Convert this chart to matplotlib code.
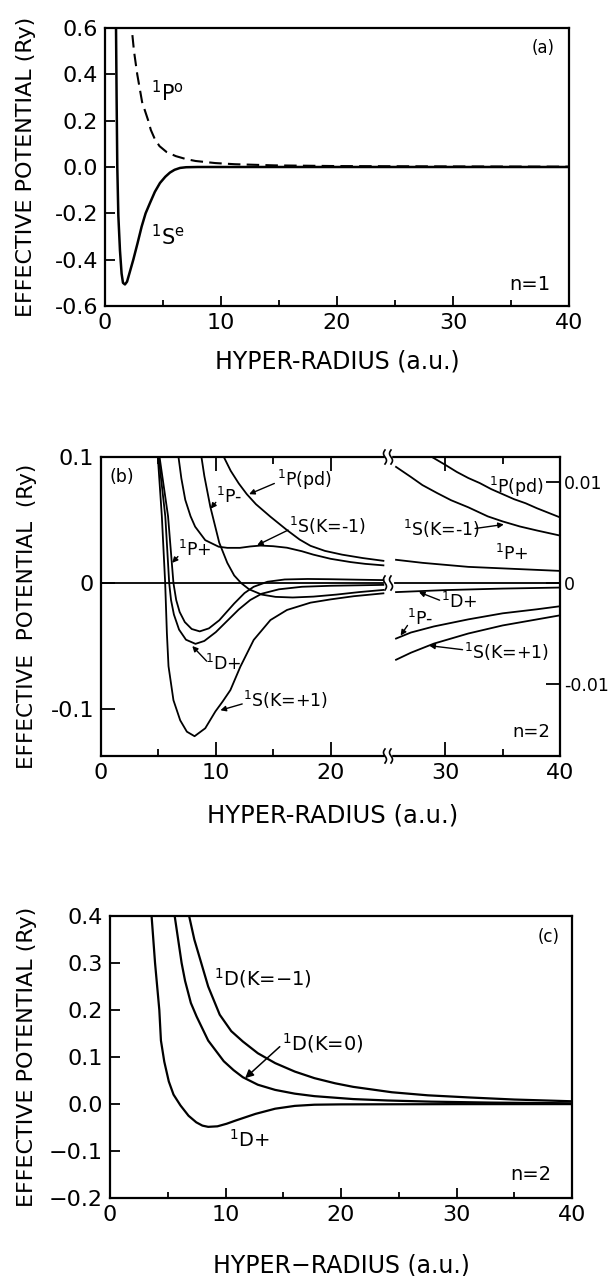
import matplotlib
matplotlib.use("Agg")
import matplotlib.pyplot as plt
import numpy as np
from matplotlib.lines import Line2D
from matplotlib.patches import Rectangle

plt.rcParams["font.family"] = "DejaVu Sans"
plt.rcParams["mathtext.default"] = "regular"

# ---------------- panel (a): n=1 ----------------
a_se_r = [0.9, 0.95, 1.0, 1.06, 1.15, 1.29, 1.43, 1.55, 1.72, 1.9, 2.1, 2.44, 2.8, 3.16,
          3.5, 3.88, 4.3, 4.74, 5.2, 5.6, 6.0, 6.47, 7.0, 8.0, 40.0]
a_se_v = [0.65, 0.6, 0.3, 0.0, -0.21, -0.36, -0.46, -0.50, -0.507, -0.495, -0.46, -0.40,
          -0.33, -0.257, -0.20, -0.155, -0.107, -0.069, -0.042, -0.024, -0.012, -0.004,
          -0.001, 0.0, 0.0]
a_po_r = [2.25, 2.3, 2.5, 2.78, 3.2, 3.73, 3.95, 4.3, 4.7, 5.3, 6.1, 7.0, 7.8, 9.5, 11.2,
          14.6, 20.0, 30.0, 40.0]
a_po_v = [0.65, 0.6, 0.5, 0.4, 0.28, 0.2, 0.16, 0.12, 0.09, 0.065, 0.047, 0.034, 0.026,
          0.017, 0.012, 0.007, 0.004, 0.0025, 0.0015]
a_yticks = [0.6, 0.4, 0.2, 0.0, -0.2, -0.4, -0.6]
a_ylabels = ["0.6", "0.4", "0.2", "0.0", "-0.2", "-0.4", "-0.6"]

# ---------------- panel (b): n=2, left part (R < 25) ----------------
b_s1p_r = [4.93, 4.95, 5.3, 5.59, 5.74, 5.88, 6.31, 6.9, 7.48, 8.15, 9.08, 9.96, 10.6,
           11.27, 12.14, 13.3, 14.76, 16.2, 18.25, 20.0, 22.0, 24.6]
b_s1p_v = [0.105, 0.1, 0.053, 0.0, -0.04, -0.066, -0.093, -0.109, -0.118, -0.1216,
           -0.1153, -0.102, -0.094, -0.085, -0.0664, -0.0452, -0.0294, -0.0214, -0.0156,
           -0.013, -0.0105, -0.0082]
b_d_r = [5.0, 5.02, 5.6, 5.94, 6.1, 6.35, 6.8, 7.4, 8.23, 9.0, 10.0, 11.0, 12.0, 13.0,
         14.0, 15.5, 17.5, 20.0, 24.6]
b_d_v = [0.105, 0.1, 0.053, 0.0, -0.0135, -0.025, -0.037, -0.045, -0.0483, -0.046,
         -0.039, -0.030, -0.021, -0.0135, -0.0085, -0.005, -0.003, -0.0022, -0.0015]
b_pp_r = [5.08, 5.1, 5.84, 6.31, 6.55, 6.85, 7.3, 7.9, 8.6, 9.4, 10.3, 11.6, 12.5, 13.3,
          14.5, 16.0, 18.0, 20.0, 22.5, 24.6]
b_pp_v = [0.105, 0.1, 0.053, 0.0, -0.0135, -0.023, -0.031, -0.0365, -0.0384, -0.036,
          -0.0296, -0.0163, -0.008, -0.003, 0.001, 0.0028, 0.0032, 0.003, 0.0026, 0.0023]
b_pm_r = [8.7, 8.75, 9.0, 9.52, 10.3, 11.0, 11.6, 12.2, 12.9, 14.0, 15.2, 16.7, 18.5,
          20.5, 22.5, 24.6]
b_pm_v = [0.105, 0.1, 0.085, 0.0606, 0.032, 0.016, 0.006, 0.0, -0.005, -0.0092, -0.011,
          -0.0115, -0.0108, -0.0092, -0.0072, -0.0055]
b_sm_r = [6.7, 6.75, 7.0, 7.34, 7.8, 8.2, 9.08, 10.25, 11.0, 12.1, 13.0, 13.9, 15.0,
          16.2, 17.5, 18.5, 20.0, 21.75, 23.0, 24.6]
b_sm_v = [0.105, 0.1, 0.083, 0.066, 0.053, 0.0447, 0.034, 0.0288, 0.0279, 0.0279, 0.029,
          0.0297, 0.0292, 0.028, 0.0252, 0.0225, 0.0192, 0.0166, 0.0152, 0.014]
b_pd_r = [10.6, 10.7, 11.3, 12.0, 12.7, 13.5, 14.76, 16.2, 17.3, 18.25, 19.5, 21.0,
          22.8, 24.6]
b_pd_v = [0.105, 0.1, 0.089, 0.079, 0.0705, 0.0625, 0.0526, 0.042, 0.0345, 0.0295,
          0.0255, 0.0225, 0.0198, 0.0176]

# ---------------- panel (b): right part (R > 25), right-hand scale ----------------
br_pd_r = [28.6, 28.8, 30.0, 31.0, 32.0, 33.0, 34.0, 35.0, 36.0, 37.0, 38.0, 40.0]
br_pd_v = [0.0127, 0.0125, 0.0117, 0.0110, 0.0104, 0.0099, 0.0093, 0.0088, 0.0083,
           0.0079, 0.0074, 0.0065]
br_sm_r = [25.7, 27.0, 28.0, 29.3, 30.5, 32.0, 33.7, 35.0, 36.5, 38.0, 40.0]
br_sm_v = [0.0115, 0.0105, 0.0097, 0.0089, 0.0082, 0.0075, 0.0066, 0.0061, 0.0056,
           0.0052, 0.0047]
br_pp_r = [25.7, 28.0, 30.0, 32.0, 34.0, 36.0, 38.0, 40.0]
br_pp_v = [0.0023, 0.0020, 0.0018, 0.0016, 0.0015, 0.0014, 0.0013, 0.0012]
br_d_r = [25.7, 30.0, 35.0, 40.0]
br_d_v = [-0.0009, -0.0007, -0.00055, -0.00045]
br_pm_r = [25.7, 27.0, 29.0, 32.0, 35.0, 38.0, 40.0]
br_pm_v = [-0.0055, -0.0049, -0.0043, -0.0036, -0.0030, -0.0026, -0.0023]
br_sp_r = [25.7, 27.0, 29.0, 32.0, 35.0, 38.0, 40.0]
br_sp_v = [-0.0076, -0.0069, -0.0060, -0.0050, -0.0042, -0.0036, -0.0032]

# ---------------- panel (c): n=2, 1D states ----------------
c_dp_r = [3.55, 3.6, 3.9, 4.27, 4.41, 4.7, 5.09, 5.5, 6.1, 6.8, 7.47, 8.0, 8.5, 9.3,
          10.1, 10.9, 12.6, 14.3, 16.0, 17.7, 20.0, 30.0, 40.0]
c_dp_v = [0.42, 0.4, 0.3, 0.2, 0.135, 0.09, 0.048, 0.02, -0.003, -0.025, -0.039, -0.046,
          -0.0486, -0.0475, -0.042, -0.035, -0.021, -0.010, -0.004, -0.0015, -0.0008,
          -0.0003, -0.0002]
c_d0_r = [5.5, 5.6, 5.9, 6.2, 6.5, 7.0, 7.5, 8.5, 9.85, 10.7, 11.5, 12.8, 14.3, 16.0,
          17.7, 21.05, 24.0, 27.8, 33.0, 40.0]
c_d0_v = [0.42, 0.4, 0.35, 0.3, 0.262, 0.215, 0.186, 0.135, 0.091, 0.072, 0.057, 0.041,
          0.030, 0.022, 0.0167, 0.0105, 0.0075, 0.005, 0.003, 0.0015]
c_dm_r = [6.75, 6.85, 7.3, 7.9, 8.5, 9.5, 10.5, 11.5, 12.8, 14.3, 16.0, 17.7, 19.5,
          21.05, 24.4, 27.5, 31.2, 35.0, 40.0]
c_dm_v = [0.42, 0.4, 0.35, 0.3, 0.25, 0.19, 0.155, 0.133, 0.108, 0.087, 0.069, 0.055,
          0.044, 0.0365, 0.025, 0.0185, 0.0138, 0.0095, 0.0058]
c_yticks = [0.4, 0.3, 0.2, 0.1, 0.0, -0.1, -0.2]
c_ylabels = ["0.4", "0.3", "0.2", "0.1", "0.0", "\u22120.1", "\u22120.2"]

x_major = [0, 10, 20, 30, 40]
x_minor = [5, 15, 25, 35]

W, H = 614, 1276
fig = plt.figure(figsize=(W / 100, H / 100), dpi=100)


def frame(l, t, r, b):
    return fig.add_axes([l / W, 1 - b / H, (r - l) / W, (b - t) / H])


def style(ax, size, major=7, minor=4):
    ax.tick_params(which="both", direction="in", width=1.3, labelsize=size)
    ax.tick_params(which="major", length=major, pad=5)
    ax.tick_params(which="minor", length=minor)
    for s in ax.spines.values():
        s.set_linewidth(1.6)


# ---- (a) ----
ax_a = frame(105, 28, 569, 306)
ax_a.plot(a_se_r, a_se_v, color="k", lw=1.8)
ax_a.plot(a_po_r, a_po_v, color="k", lw=1.5, ls=(0, (6, 3)))
ax_a.set_xlim(0, 40)
ax_a.set_ylim(-0.6, 0.6)
ax_a.set_xticks(x_major)
ax_a.set_xticks(x_minor, minor=True)
ax_a.set_yticks(a_yticks)
ax_a.set_yticklabels(a_ylabels)
style(ax_a, 16)
ax_a.set_xlabel("HYPER-RADIUS (a.u.)", fontsize=17, va="center")
ax_a.xaxis.set_label_coords(0.5, (306 - 362) / 278)
ax_a.set_ylabel("EFFECTIVE POTENTIAL (Ry)", fontsize=16, va="center")
ax_a.yaxis.set_label_coords((26 - 105) / 464, 0.5)
ax_a.text(4.0, 0.32, "$^1$P$^o$", fontsize=15, va="center")
ax_a.text(4.0, -0.30, "$^1$S$^e$", fontsize=15, va="center")
ax_a.text(37.8, 0.514, "(a)", fontsize=12, ha="center", va="center")
ax_a.text(36.6, -0.508, "n=1", fontsize=14, ha="center", va="center")

# ---- (b) ----
BREAK_PX = 388
bx_l = frame(101, 457, BREAK_PX, 756)
bx_r = frame(BREAK_PX, 457, 560, 756)
for r, v in [(b_s1p_r, b_s1p_v), (b_d_r, b_d_v), (b_pp_r, b_pp_v),
             (b_pm_r, b_pm_v), (b_sm_r, b_sm_v), (b_pd_r, b_pd_v)]:
    bx_l.plot(r, v, color="k", lw=1.3)
for r, v in [(br_pd_r, br_pd_v), (br_sm_r, br_sm_v), (br_pp_r, br_pp_v),
             (br_d_r, br_d_v), (br_pm_r, br_pm_v), (br_sp_r, br_sp_v)]:
    bx_r.plot(r, v, color="k", lw=1.3)
bx_l.axhline(0, xmax=24.6 / 25, color="k", lw=1.3)
bx_r.axhline(0, xmin=0.6 / 15, color="k", lw=1.3)

bx_l.set_xlim(0, 25)
bx_l.set_ylim(-0.1373, 0.1)
bx_r.set_xlim(25, 40)
bx_r.set_ylim(-0.01713, 0.01248)
bx_l.spines["right"].set_visible(False)
bx_r.spines["left"].set_visible(False)
style(bx_l, 16, major=10, minor=5)
style(bx_r, 16, major=10, minor=5)
bx_l.tick_params(which="both", top=True)
bx_r.tick_params(which="both", top=True, left=False, right=True,
                 labelleft=False, labelright=True)
bx_r.tick_params(axis="y", labelsize=12.5, pad=3)
bx_l.set_xticks([0, 10, 20])
bx_l.set_xticks([5, 15], minor=True)
bx_r.set_xticks([30, 40])
bx_r.set_xticks([35], minor=True)
bx_l.set_yticks([0.1, 0.0, -0.1])
bx_l.set_yticklabels(["0.1", "0", "-0.1"])
bx_r.set_yticks([0.01, 0.0, -0.01])
bx_r.set_yticklabels(["0.01", "0", "-0.01"])
bx_l.set_xlabel("HYPER-RADIUS (a.u.)", fontsize=17.5, va="center")
bx_l.xaxis.set_label_coords((333 - 101) / 287, (756 - 815) / 299)
bx_l.set_ylabel("EFFECTIVE  POTENTIAL  (Ry)", fontsize=15.5, va="center")
bx_l.yaxis.set_label_coords((27 - 101) / 287, (756 - 616) / 299)

lab = dict(fontsize=12.5, va="center")
arw = dict(arrowstyle="-|>", color="k", lw=1.0, mutation_scale=8, shrinkA=0, shrinkB=0)
bx_l.text(1.8, 0.084, "(b)", fontsize=12.5, ha="center", va="center")
bx_l.text(15.3, 0.082, "$^1$P(pd)", **lab)
bx_l.annotate("", xy=(12.9, 0.0705), xytext=(15.1, 0.079), arrowprops=arw)
bx_l.text(10.0, 0.068, "$^1$P-", **lab)
bx_l.annotate("", xy=(9.55, 0.059), xytext=(10.0, 0.064), arrowprops=arw)
bx_l.text(16.4, 0.045, "$^1$S(K=-1)", **lab)
bx_l.annotate("", xy=(13.6, 0.030), xytext=(16.3, 0.042), arrowprops=arw)
bx_l.text(6.75, 0.026, "$^1$P+", **lab)
bx_l.annotate("", xy=(6.2, 0.016), xytext=(6.7, 0.021), arrowprops=arw)
bx_l.text(9.1, -0.064, "$^1$D+", **lab)
bx_l.annotate("", xy=(7.95, -0.050), xytext=(9.2, -0.062), arrowprops=arw)
bx_l.text(12.4, -0.093, "$^1$S(K=+1)", **lab)
bx_l.annotate("", xy=(10.4, -0.101), xytext=(12.3, -0.096), arrowprops=arw)

bx_r.text(33.8, 0.0095, "$^1$P(pd)", **lab)
bx_r.text(26.3, 0.0054, "$^1$S(K=-1)", **lab)
bx_r.annotate("", xy=(35.1, 0.0058), xytext=(32.6, 0.0054), arrowprops=arw)
bx_r.text(34.3, 0.0029, "$^1$P+", **lab)
bx_r.text(29.6, -0.0019, "$^1$D+", **lab)
bx_r.annotate("", xy=(27.7, -0.0009), xytext=(29.5, -0.0017), arrowprops=arw)
bx_r.text(26.7, -0.0036, "$^1$P-", **lab)
bx_r.annotate("", xy=(26.1, -0.0052), xytext=(26.7, -0.0042), arrowprops=arw)
bx_r.text(31.6, -0.0068, "$^1$S(K=+1)", **lab)
bx_r.annotate("", xy=(28.6, -0.0062), xytext=(31.5, -0.0066), arrowprops=arw)
bx_r.text(37.5, -0.0148, "n=2", fontsize=13, ha="center", va="center")

# axis-break marks at R = 25 (top, bottom and zero line)
t = np.linspace(-1, 1, 21)
for py in (457, 756, 583):
    fig.add_artist(Rectangle(((BREAK_PX - 3) / W, 1 - (py + 3) / H), 6 / W, 6 / H,
                             transform=fig.transFigure, color="white", zorder=5))
    for dx in (-3, 3):
        xs = (BREAK_PX + dx + 1.5 * np.sin(np.pi * t)) / W
        ys = 1 - (py + 7 * t) / H
        fig.add_artist(Line2D(xs, ys, transform=fig.transFigure, color="k",
                              lw=1.2, zorder=6))

# ---- (c) ----
ax_c = frame(110, 916, 572, 1198)
ax_c.plot(c_dp_r, c_dp_v, color="k", lw=1.6)
ax_c.plot(c_d0_r, c_d0_v, color="k", lw=1.6)
ax_c.plot(c_dm_r, c_dm_v, color="k", lw=1.6)
ax_c.set_xlim(0, 40)
ax_c.set_ylim(-0.2, 0.4)
ax_c.set_xticks(x_major)
ax_c.set_xticks(x_minor, minor=True)
ax_c.set_yticks(c_yticks)
ax_c.set_yticklabels(c_ylabels)
style(ax_c, 16)
ax_c.set_xlabel("HYPER\u2212RADIUS (a.u.)", fontsize=17, va="center")
ax_c.xaxis.set_label_coords(0.5, (1198 - 1265) / 282)
ax_c.set_ylabel("EFFECTIVE POTENTIAL (Ry)", fontsize=16, va="center")
ax_c.yaxis.set_label_coords((27 - 110) / 462, 0.5)
ax_c.text(9.0, 0.268, "$^1$D(K=\u22121)", fontsize=14, va="center")
ax_c.text(14.9, 0.130, "$^1$D(K=0)", fontsize=14, va="center")
ax_c.annotate("", xy=(11.7, 0.055), xytext=(14.7, 0.122),
              arrowprops=dict(arrowstyle="-|>", color="k", lw=1.1, mutation_scale=12,
                              shrinkA=0, shrinkB=0))
ax_c.text(10.3, -0.077, "$^1$D+", fontsize=14, va="center")
ax_c.text(38.0, 0.355, "(c)", fontsize=12, ha="center", va="center")
ax_c.text(36.4, -0.149, "n=2", fontsize=14, ha="center", va="center")

fig.savefig("out.png", dpi=100)
